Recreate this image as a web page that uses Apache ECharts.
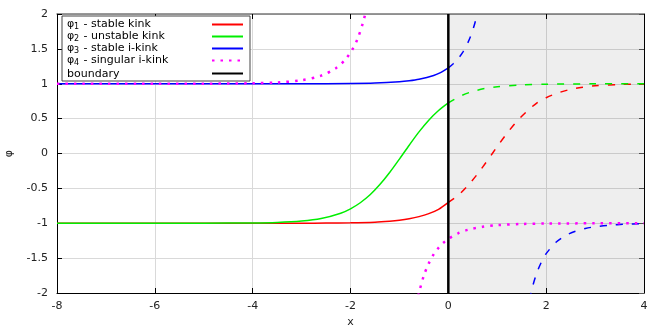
<!DOCTYPE html>
<html>
<head>
<meta charset="utf-8">
<script src="https://cdn.jsdelivr.net/npm/echarts@6/dist/echarts.min.js"></script>
<style>
  html, body { margin: 0; padding: 0; background: #fff; }
  #main { width: 664px; height: 332px; }
</style>
</head>
<body>
<div id="main"></div>
<script>
// phi1 - stable kink
const redSolidX = [-8, -6, -4, -3, -2.5, -2, -1.5, -1.2, -1, -0.8, -0.6, -0.4, -0.2, 0];
const redSolidY = [-1, -1, -1, -0.999, -0.998, -0.994, -0.984, -0.970, -0.956, -0.935, -0.905, -0.862, -0.800, -0.70];
const redDashX = [0, 0.2, 0.4, 0.6, 0.8, 1.0, 1.2, 1.4, 1.6, 1.8, 2.0, 2.25, 2.5, 2.75, 3, 3.5, 4];
const redDashY = [-0.70, -0.60, -0.46, -0.29, -0.10, 0.10, 0.29, 0.46, 0.60, 0.72, 0.80, 0.87, 0.92, 0.95, 0.97, 0.99, 0.996];

// phi2 - unstable kink
const greenSolidX = [-8, -6, -5, -4, -3.5, -3, -2.6, -2.2, -2, -1.8, -1.6, -1.4, -1.2, -1, -0.8, -0.6, -0.4, -0.2, 0];
const greenSolidY = [-1, -1, -0.999, -0.996, -0.989, -0.969, -0.933, -0.856, -0.793, -0.706, -0.592, -0.446, -0.273, -0.080, 0.119, 0.310, 0.478, 0.617, 0.726];
const greenDashX = [0, 0.25, 0.5, 0.75, 1, 1.5, 2, 3, 4];
const greenDashY = [0.726, 0.824, 0.890, 0.932, 0.958, 0.984, 0.994, 0.999, 1];

// phi3 - stable i-kink
const blueSolidX = [-8, -6, -4, -3, -2, -1.5, -1, -0.8, -0.6, -0.3, -0.15, 0];
const blueSolidY = [1, 1, 1, 1.0005, 1.004, 1.010, 1.028, 1.042, 1.064, 1.119, 1.164, 1.228];
const blueDashX = [0, 0.1, 0.2, 0.3, 0.4, 0.5, 0.6, 0.7];
const blueDashY = [1.228, 1.286, 1.360, 1.458, 1.589, 1.770, 2.029, 2.418];
const blueLowX = [1.6, 1.7, 1.8, 1.9, 2.0, 2.2, 2.4, 2.6, 2.8, 3.0, 3.3, 3.6, 4.0];
const blueLowY = [-2.325, -1.969, -1.729, -1.560, -1.436, -1.273, -1.175, -1.114, -1.075, -1.050, -1.027, -1.015, -1.007];

// phi4 - singular i-kink
const magUpX = [-8, -6, -5, -4, -3.5, -3, -2.6, -2.3, -2.1, -1.95, -1.85, -1.75, -1.7, -1.65];
const magUpY = [1, 1, 1.001, 1.007, 1.018, 1.051, 1.116, 1.223, 1.352, 1.506, 1.655, 1.862, 1.998, 2.164];
const magLowX = [-0.65, -0.6, -0.5, -0.4, -0.3, -0.2, -0.1, 0, 0.2, 0.4, 0.7, 1.0, 1.5, 2.0, 3.0, 4.0];
const magLowY = [-2.164, -1.998, -1.749, -1.575, -1.447, -1.352, -1.279, -1.223, -1.144, -1.094, -1.051, -1.028, -1.010, -1.004, -1.001, -1];

const boundaryX = [0, 0];
const boundaryY = [-2, 2];

const legendNames = ['φ1', 'φ2', 'φ3', 'φ4', 'boundary'];
const legendText = {
  'φ1': ' - stable kink',
  'φ2': ' - unstable kink',
  'φ3': ' - stable i-kink',
  'φ4': ' - singular i-kink'
};

function pairs(xs, ys) {
  return xs.map(function (x, i) { return [x, ys[i]]; });
}

const font = 'DejaVu Sans';

function curve(name, xs, ys, color, type, width) {
  return {
    name: name,
    type: 'line',
    data: pairs(xs, ys),
    showSymbol: false,
    symbol: 'none',
    smooth: 0.3,
    lineStyle: { color: color, width: width || 1.5, type: type || 'solid' },
    itemStyle: { color: color },
    emphasis: { disabled: true }
  };
}

var myChart = echarts.init(document.getElementById('main'));

var series = [
  curve('φ1', redSolidX, redSolidY, '#ff0000'),
  curve('φ1 dash', redDashX, redDashY, '#ff0000', [7, 9]),
  curve('φ2', greenSolidX, greenSolidY, '#00ee00'),
  curve('φ2 dash', greenDashX, greenDashY, '#00ee00', [7, 9]),
  curve('φ3', blueSolidX, blueSolidY, '#0000ff'),
  curve('φ3 dash', blueDashX, blueDashY, '#0000ff', [7, 9]),
  curve('φ3 low', blueLowX, blueLowY, '#0000ff', [7, 9]),
  curve('φ4', magUpX, magUpY, '#ff00ff', [2.5, 6], 2.5),
  curve('φ4 low', magLowX, magLowY, '#ff00ff', [2.5, 6], 2.5),
  curve('boundary', boundaryX, boundaryY, '#000000', 'solid', 2.5)
];
// shaded region x > 0
series[0].markArea = {
  silent: true,
  itemStyle: { color: 'rgba(0,0,0,0.068)' },
  data: [[{ xAxis: 0 }, { xAxis: 4 }]]
};

var option = {
  animation: false,
  backgroundColor: '#ffffff',
  textStyle: { fontFamily: font },
  grid: { left: 57, right: 20, top: 14, bottom: 39, containLabel: false, outerBoundsMode: 'none' },
  legend: {
    data: legendNames,
    orient: 'vertical',
    left: 62,
    top: 16,
    align: 'right',
    padding: [3, 6, 1, 5],
    itemGap: 0,
    itemWidth: 31,
    itemHeight: 13,
    backgroundColor: '#ffffff',
    borderColor: '#444444',
    borderWidth: 1,
    borderRadius: 0,
    selectedMode: false,
    itemStyle: { opacity: 0 },
    formatter: function (name) {
      if (name === 'boundary') return '{b|boundary}';
      return '{p|φ}{s|' + name.slice(1) + '}{t|' + legendText[name] + '}';
    },
    textStyle: {
      fontFamily: font,
      fontSize: 11,
      color: '#000',
      align: 'left',
      rich: {
        p: { fontFamily: font, fontSize: 11, width: 7, lineHeight: 13, align: 'left' },
        s: { fontFamily: font, fontSize: 8, width: 6, lineHeight: 13, verticalAlign: 'bottom', padding: [4, 0, 0, 0], align: 'left' },
        t: { fontFamily: font, fontSize: 11, width: 127, lineHeight: 13, align: 'left' },
        b: { fontFamily: font, fontSize: 11, width: 140, lineHeight: 13, align: 'left', padding: [2, 0, 0, 0] }
      }
    }
  },
  xAxis: [{
    type: 'value',
    min: -8, max: 4, interval: 2,
    position: 'bottom',
    name: 'x',
    nameLocation: 'middle',
    nameGap: 24,
    nameTextStyle: { fontFamily: font, fontSize: 11, color: '#222' },
    axisLine: { onZero: false, lineStyle: { color: '#000', width: 1 } },
    axisTick: { inside: true, length: 5, lineStyle: { color: '#000' } },
    axisLabel: { margin: 8, fontFamily: font, fontSize: 11, color: '#222' },
    splitLine: { show: true, lineStyle: { color: '#d9d9d9', width: 1 } }
  }, {
    type: 'value',
    min: -8, max: 4, interval: 2,
    position: 'top',
    axisLine: { onZero: false, lineStyle: { color: '#777', width: 1.5 } },
    axisTick: { inside: true, length: 5, lineStyle: { color: '#000' } },
    axisLabel: { show: false },
    splitLine: { show: false }
  }],
  yAxis: [{
    type: 'value',
    min: -2, max: 2, interval: 0.5,
    position: 'left',
    name: 'φ',
    nameLocation: 'middle',
    nameRotate: 90,
    nameGap: 42,
    nameTextStyle: { fontFamily: font, fontSize: 11, color: '#222' },
    axisLine: { onZero: false, lineStyle: { color: '#000', width: 1 } },
    axisTick: { inside: true, length: 5, lineStyle: { color: '#000' } },
    axisLabel: { margin: 9, fontFamily: font, fontSize: 11, color: '#222' },
    splitLine: { show: true, lineStyle: { color: '#d9d9d9', width: 1 } }
  }, {
    type: 'value',
    min: -2, max: 2, interval: 0.5,
    position: 'right',
    axisLine: { show: true, onZero: false, lineStyle: { color: '#000', width: 1 } },
    axisTick: { show: true, inside: true, length: 5, lineStyle: { color: '#555' } },
    axisLabel: { show: false },
    splitLine: { show: false }
  }],
  series: series
};
myChart.setOption(option);
</script>
</body>
</html>
